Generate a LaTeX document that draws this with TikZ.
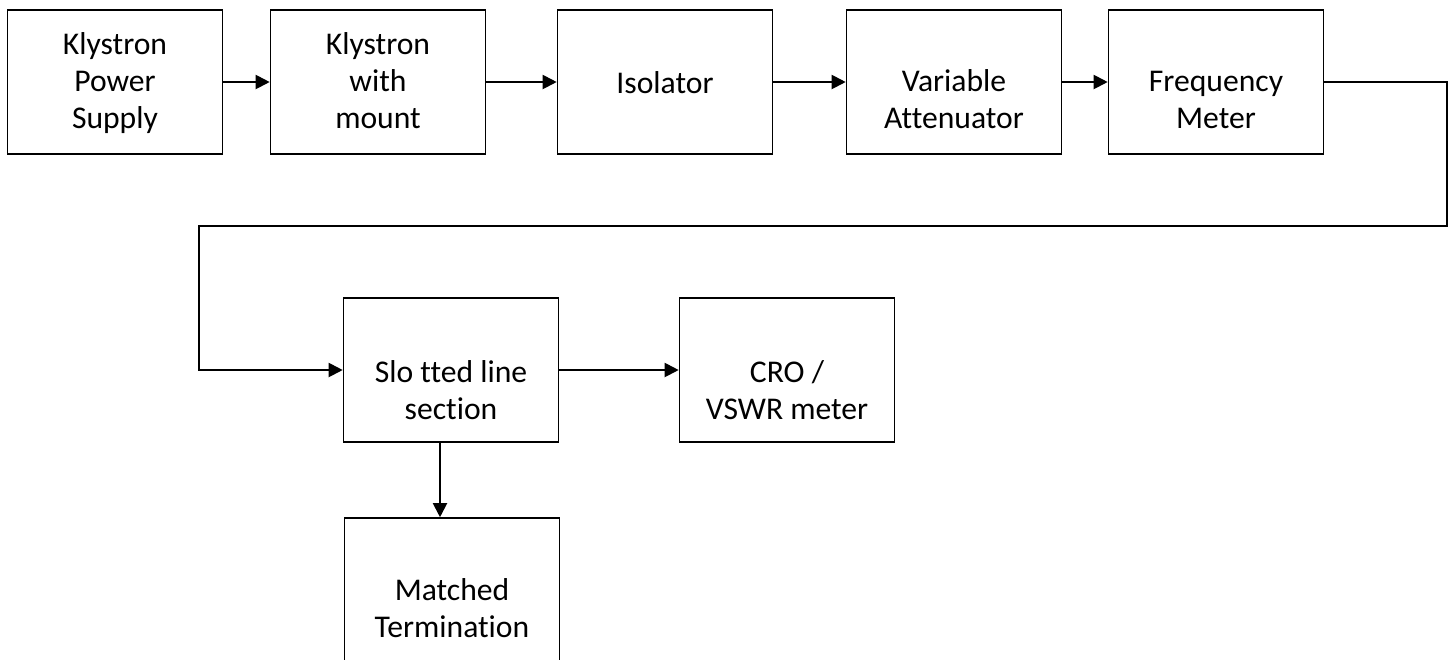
\documentclass[tikz,border=0pt]{standalone}
\usepackage{fontspec}
\setmainfont[Ligatures=NoCommon]{Carlito}
\usetikzlibrary{arrows.meta,calc}
\newcommand{\boxwidth}{4.3cm}
\newcommand{\boxheight}{2.88cm}
\tikzset{
  blk/.style={draw, line width=0.9pt, minimum width=\boxwidth, minimum height=\boxheight, inner sep=0pt},
  txt/.style={align=center, font=\fontsize{18}{21}\selectfont, anchor=base, inner sep=0pt},
  arr/.style={line width=1.1pt, -{Triangle[length=8pt,width=8pt]}}
}
\begin{document}
\begin{tikzpicture}
\useasboundingbox (0,0) rectangle (29.06,-13.18);
\clip (0,0) rectangle (29.06,-13.18);
% top row
\node (1) at (2.30, -1.64) [blk] {};
\node (2) at (7.56, -1.64) [blk] {};
\node (3) at (13.30, -1.64) [blk] {};
\node (4) at (19.08, -1.64) [blk] {};
\node (5) at (24.32, -1.64) [blk] {};
% bottom part
\node (6) at (9.02, -7.40) [blk] {};
\node (7) at (15.74, -7.40) [blk] {};
\node (8) at (9.04, -11.80) [blk] {};
% texts (base = last line)
\node (1t) at ($(1.north)+(0,-2.38)$) [txt] {Klystron\\Power\\Supply};
\node (2t) at ($(2.north)+(0,-2.38)$) [txt] {Klystron\\with\\mount};
\node (3t) at ($(3.north)+(0,-1.68)$) [txt] {Isolator};
\node (4t) at ($(4.north)+(0,-2.38)$) [txt] {Variable\\Attenuator};
\node (5t) at ($(5.north)+(0,-2.38)$) [txt] {Frequency\\Meter};
\node (6t) at ($(6.north)+(0,-2.44)$) [txt] {Slo tted line\\section};
\node (7t) at ($(7.north)+(0,-2.44)$) [txt] {CRO /\\VSWR meter};
\node (8t) at ($(8.north)+(0,-2.40)$) [txt] {Matched\\Termination};
% connectors
\draw[arr] (1) -- (2);
\draw[arr] (2) -- (3);
\draw[arr] (3) -- (4);
\draw[arr] (4) -- (5);
\coordinate (c1) at (28.94, -1.64);
\coordinate (c2) at (28.94, -4.52);
\coordinate (c3) at (3.98, -4.52);
\coordinate (c4) at (3.98, -7.40);
\draw[arr] (5.east) -- (c1) -- (c2) -- (c3) -- (c4) -- (6.west);
\draw[arr] (6) -- (7);
\draw[arr] ([xshift=-0.22cm]6.south) -- ([xshift=-0.22cm]6.south |- 8.north);
\end{tikzpicture}
\end{document}
